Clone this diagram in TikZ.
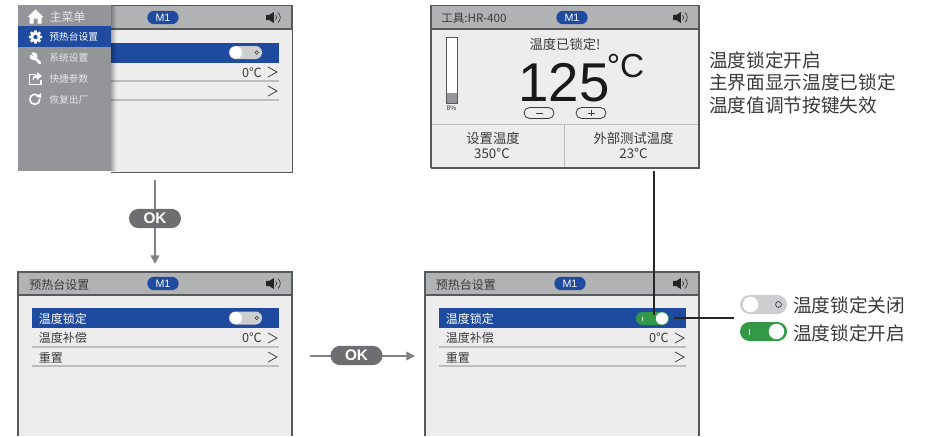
\documentclass[tikz,border=0pt]{standalone}
\usepackage{fontspec}
\setmainfont{Liberation Sans}
\newfontfamily\cjk{Noto Sans CJK SC}
\usetikzlibrary{arrows.meta,shapes.misc,calc}
\definecolor{hdr}{HTML}{B1B2B4}
\definecolor{pnl}{HTML}{EDEDEE}
\definecolor{edgec}{HTML}{58595B}
\definecolor{blu}{HTML}{1E4BA0}
\definecolor{mnu}{HTML}{939598}
\definecolor{grn}{HTML}{339947}
\definecolor{txt}{HTML}{3A3A3C}
\definecolor{okc}{HTML}{6D6E71}
\definecolor{flowc}{HTML}{808285}
\definecolor{sep}{HTML}{BCBDC0}
\definecolor{togc}{HTML}{CDCED0}
\definecolor{menutxt}{HTML}{E6E7E8}
\tikzset{
  panelbox/.style={draw=edgec,line width=0.9pt,fill=pnl},
  hdrbar/.style={fill=hdr,draw=edgec,line width=0.9pt},
  mpill/.style={rounded rectangle,fill=blu,text=white,inner sep=0pt,minimum width=23.5pt,minimum height=10pt,font=\fontsize{8}{8}\selectfont},
  okpill/.style={rounded rectangle,fill=okc,text=white,inner sep=0pt,minimum width=39pt,minimum height=14.5pt,font=\bfseries\fontsize{11.5}{12}\selectfont},
  rowtxt/.style={anchor=west,inner sep=0pt,text=txt,font=\cjk\fontsize{9}{10}\selectfont},
  rowsel/.style={anchor=west,inner sep=0pt,text=white,font=\cjk\fontsize{9}{10}\selectfont},
  menutext/.style={anchor=west,inner sep=0pt,text=menutxt,font=\cjk\fontsize{7.3}{8}\selectfont},
  bigtxt/.style={anchor=west,inner sep=0pt,text=txt,font=\cjk\fontsize{14}{16}\selectfont},
  cntr/.style={inner sep=0pt,text=txt,font=\cjk\fontsize{10}{11}\selectfont},
  flow/.style={draw=flowc,line width=1.1pt,-{Triangle[length=6.5pt,width=6.5pt]}},
  leader/.style={draw=black!85,line width=0.8pt},
  seprule/.style={draw=sep,line width=0.9pt},
  chev/.style={draw=txt,line width=0.55pt}
}
\newcommand{\spk}[2]{%
  \fill[black!85] (#1-7,#2-2.7)--(#1-3.5,#2-2.7)--(#1+0.8,#2-5.5)--(#1+0.8,#2+5.5)--(#1-3.5,#2+2.7)--(#1-7,#2+2.7)--cycle;
  \draw[black!85,line width=0.45pt] (#1+2.6,#2-2.6) .. controls (#1+3.9,#2-1) and (#1+3.9,#2+1) .. (#1+2.6,#2+2.6);
  \draw[black!85,line width=0.45pt] (#1+5,#2-5) .. controls (#1+8,#2-2) and (#1+8,#2+2) .. (#1+5,#2+5);
}
\newcommand{\chevr}[2]{\draw[chev] (#1-4.5,#2-5)--(#1+4.5,#2)--(#1-4.5,#2+5);}
\newcommand{\togoff}[2]{%
  \fill[togc,rounded corners=4.8pt] (#1,#2) rectangle (#1+33,#2+13);
  \fill[white] (#1+7,#2+6.5) circle[radius=4.6pt];
  \draw[txt,line width=0.4pt] (#1+27.7,#2+6.5) circle[radius=1.3pt];
}
\newcommand{\rowset}[1]{%
  \fill[blu] (#1+14,308) rectangle (#1+261,328);
  \node[rowsel] at (#1+20.5,318.5) {温度锁定};
  \node[rowtxt] at (#1+20.5,338) {温度补偿};
  \node[rowtxt] at (#1+20.5,358) {重置};
  \draw[seprule] (#1+14,347)--(#1+261,347);
  \draw[seprule] (#1+14,366)--(#1+261,366);
  \node[anchor=east,inner sep=0pt,text=txt,font=\cjk\fontsize{9.5}{11}\selectfont] at (#1+244,338) {0℃};
  \chevr{#1+254.5}{338}
  \chevr{#1+254.5}{357}
}
\begin{document}
\begin{tikzpicture}[x=0.75pt,y=-0.75pt]
\useasboundingbox (0,0) rectangle (928,436);
\fill[white] (0,0) rectangle (928,436);

% ---------- top-left panel
\node[panelbox,anchor=north west,inner sep=0pt,minimum width=138pt,minimum height=124.5pt] (tl) at (108,5.5) {};
\draw[hdrbar] (108,5.5) rectangle (292,29);
\node[mpill] (tlm) at (163,17.5) {M1};
\spk{273}{17.5}
\fill[blu] (109,43) rectangle (279,63);
\togoff{229}{46}
\node[anchor=east,inner sep=0pt,text=txt,font=\cjk\fontsize{9.5}{11}\selectfont] at (262,72.5) {0℃};
\chevr{272.5}{72}
\chevr{272.5}{91}
\draw[seprule] (109,81)--(279,81);
\draw[seprule] (109,100)--(279,100);
% menu
\foreach \i/\o in {0/0.30,1/0.24,2/0.18,3/0.12,4/0.07,5/0.03}{
  \fill[black,opacity=\o] (111+\i,6) rectangle (112+\i,171);
}
\fill[mnu] (18,5) rectangle (111,172.3);
\fill[white] (18,171.3) rectangle (111,172.6);
\fill[blu] (18,26) rectangle (111,47);
% home icon
\fill[white] (27.5,17) -- (35.5,9.5) -- (43.5,17) -- (41.5,17) -- (41.5,23.5) -- (37.5,23.5) -- (37.5,18.5) -- (33.5,18.5) -- (33.5,23.5) -- (29.5,23.5) -- (29.5,17) -- cycle;
% gear icon
\foreach \a in {0,45,...,315}{\fill[white] ($(35.5,37)+(\a:3.2pt)+(\a+90:1.1pt)$) -- ($(35.5,37)+(\a:5pt)+(\a+90:0.9pt)$) -- ($(35.5,37)+(\a:5pt)+(\a-90:0.9pt)$) -- ($(35.5,37)+(\a:3.2pt)+(\a-90:1.1pt)$) -- cycle;}
\fill[white,even odd rule] (35.5,37) circle[radius=3.9pt] (35.5,37) circle[radius=1.7pt];
% wrench icon
\draw[white,line width=2pt,line cap=round] (34.5,57.5)--(40,63);
\fill[white] (33.5,56.2) circle[radius=3pt];
\fill[mnu] (33.2,55.8) -- (29,50) -- (29,54.2) -- cycle;
% share icon
\draw[white,line width=0.8pt] (36,74.5) -- (29.5,74.5) -- (29.5,84.5) -- (41,84.5) -- (41,80);
\fill[white] (42,76) -- (37,72) -- (37,74.5) .. controls (34,74.5) and (32.5,77) .. (32.5,80.5) .. controls (33.5,78.5) and (35,77.5) .. (37,77.5) -- (37,80) -- cycle;
% refresh icon
\draw[white,line width=1.2pt] ($(34.8,99.3)+(50:3.8pt)$) arc[start angle=50,delta angle=315,radius=3.8pt];
\fill[white] (41,93) -- (41,98) -- (36.3,96.8) -- cycle;
\node[anchor=west,inner sep=0pt,text=menutxt,font=\cjk\fontsize{8.9}{10}\selectfont] (m0) at (49.5,16.5) {主菜单};
\node[menutext,text=white] (m1) at (49.2,37) {预热台设置};
\node[menutext] (m2) at (49.2,58) {系统设置};
\node[menutext] (m3) at (49.2,78.5) {快捷参数};
\node[menutext] (m4) at (49.2,99.5) {恢复出厂};

% ---------- top-right panel
\node[panelbox,anchor=north west,inner sep=0pt,minimum width=201pt,minimum height=121.5pt] (tr) at (431,5.5) {};
\draw[hdrbar] (431,5.5) rectangle (699,29);
\node[anchor=west,inner sep=0pt,text=txt,font=\cjk\fontsize{8.7}{10}\selectfont] at (441,18) {工具:HR-400};
\node[mpill] (trm) at (572,17.5) {M1};
\spk{680}{17.5}
% bar
\fill[white!95!pnl] (446.5,37) rectangle (457,103);
\fill[mnu] (446.8,93) rectangle (456.7,102.7);
\draw[edgec,line width=0.7pt] (446.5,37) rectangle (457,103);
\node[inner sep=0pt,text=txt,font=\fontsize{5}{6}\selectfont] at (451.5,108.5) {8\%};
\node[inner sep=0pt,text=txt,font=\cjk\fontsize{10}{11}\selectfont] at (565,44) {温度已锁定!};
\node[inner sep=0pt,text=black!90,font=\fontsize{41}{44}\selectfont,anchor=base] (val) at (564,101.5) {125};
\node[inner sep=0pt,text=black!90,font=\fontsize{25}{30}\selectfont,anchor=base west] at (606.5,77.5) {°C};
\node[rounded rectangle,draw=txt,line width=0.6pt,fill=pnl,inner sep=0pt,minimum width=22.5pt,minimum height=8.2pt] (minus) at (539,113) {};
\node[rounded rectangle,draw=txt,line width=0.6pt,fill=pnl,inner sep=0pt,minimum width=22.5pt,minimum height=8.2pt] (plus) at (591,113) {};
\draw[txt,line width=0.55pt] (535.5,113)--(542.5,113);
\draw[txt,line width=0.55pt] (587.5,113)--(594.5,113) (591,109.8)--(591,116.2);
\draw[draw=sep,line width=0.8pt] (431,124.7)--(699,124.7) (564.5,124.7)--(564.5,167);
\node[cntr] at (493,138.5) {设置温度};
\node[cntr] at (492,153) {350°C};
\node[cntr] at (633.5,138.5) {外部测试温度};
\node[cntr] at (633.5,153) {23°C};
\draw[edgec,line width=0.9pt] (431,5.5) rectangle (699,167.5);

% side text
\node[bigtxt] at (709,60) {温度锁定开启};
\node[bigtxt] at (709,82) {主界面显示温度已锁定};
\node[bigtxt] at (709,105) {温度值调节按键失效};

% ---------- bottom-left panel
\fill[pnl] (18,272) rectangle (292,436);
\draw[edgec,line width=0.9pt] (18,436)--(18,272)--(292,272)--(292,436);
\draw[hdrbar] (18,272) rectangle (292,295);
\node[anchor=west,inner sep=0pt,text=txt,font=\cjk\fontsize{9}{10}\selectfont] at (29,284.5) {预热台设置};
\node[mpill] (blm) at (163,283.5) {M1};
\spk{273}{283.5}
\rowset{18}
\togoff{229}{311.5}

% ---------- bottom-right panel
\fill[pnl] (425,272) rectangle (699,436);
\draw[edgec,line width=0.9pt] (425,436)--(425,272)--(699,272)--(699,436);
\draw[hdrbar] (425,272) rectangle (699,295);
\node[anchor=west,inner sep=0pt,text=txt,font=\cjk\fontsize{9}{10}\selectfont] at (435.5,284.5) {预热台设置};
\node[mpill] (brm) at (570,283.5) {M1};
\spk{680}{283.5}
\rowset{425}
\fill[grn,rounded corners=4.8pt] (636,312) rectangle (669,325);
\fill[white] (662,318.5) circle[radius=4.6pt];
\draw[white,line width=0.4pt] (642,316.5)--(642,320.5);

% ---------- legend
\fill[togc,rounded corners=7.1pt] (740,295) rectangle (787,314);
\fill[white] (750.5,304.5) circle[radius=5.8pt];
\draw[txt,line width=0.5pt] (778.5,304.5) circle[radius=2.2pt];
\fill[grn,rounded corners=7.1pt] (740,322) rectangle (787,341);
\fill[white] (776.5,331.5) circle[radius=5.8pt];
\draw[white,line width=0.5pt] (749,328.5)--(749,334.5);
\node[bigtxt] (lg0) at (793,305) {温度锁定关闭};
\node[bigtxt] (lg1) at (793,333) {温度锁定开启};

% ---------- connectors
\coordinate (onk) at (654,315);
\coordinate (hl) at (674,318);
\coordinate (hr) at (734,318);
\draw[leader] (tr.south -| onk) ++(0,2.5) -- (onk);
\draw[leader] (hl)--(hr);
\coordinate (v0) at (155,180);
\coordinate (v1) at (155,264);
\draw[flow] (v0)--(v1);
\node[okpill] (ok1) at (155,218.5) {OK};
\coordinate (h0) at (310,356);
\coordinate (h1) at (415,356);
\draw[flow] (h0)--(h1);
\node[okpill] (ok2) at (356.5,355.5) {OK};
\end{tikzpicture}
\end{document}
